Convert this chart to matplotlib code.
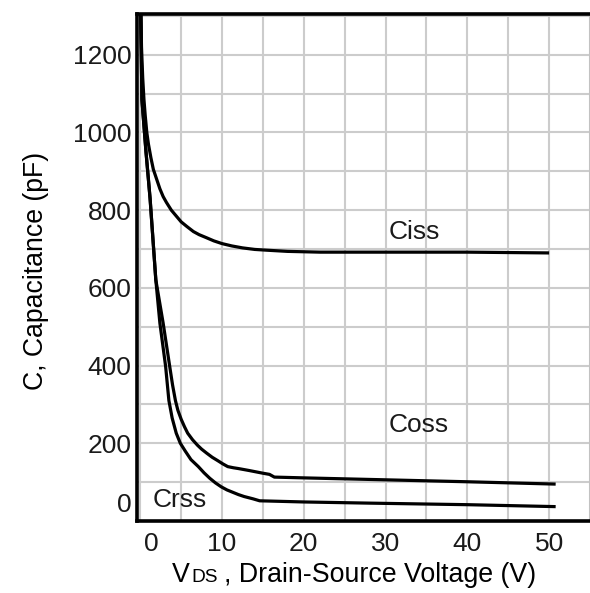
import matplotlib
matplotlib.use("Agg")
import matplotlib.pyplot as plt
from matplotlib import font_manager
from matplotlib.transforms import ScaledTranslation

# ---- data ----
ciss_v = [0, 0.15, 0.3, 0.45, 0.6, 0.8, 1.0, 1.3, 1.6, 2.0, 2.4, 2.8, 3.2, 3.8, 4.4, 5.0, 5.7,
          6.5, 7.2, 8.0, 9.0, 10.0, 11.2, 12.5, 14, 15.5, 18, 22, 30, 40, 50]
ciss_c = [1400, 1220, 1140, 1085, 1045, 1000, 970, 935, 905, 880, 855, 835, 820, 800, 785, 770, 758,
          745, 737, 730, 721, 714, 708, 703, 699, 697, 694, 692, 692, 692, 690]

coss_v = [0, 0.2, 0.7, 1.2, 1.9, 2.8, 3.6, 3.95, 4.3, 4.6, 5.0, 5.4, 5.8, 6.4, 7.0, 7.5, 8.1, 8.8,
          9.5, 10.1, 10.7, 11.4, 12.0, 13.3, 15.0, 15.8, 16.4, 20, 28, 40, 50.8]
coss_c = [1400, 1085, 950, 830, 621, 509, 398, 350, 310, 285, 262, 243, 226, 209, 195, 185, 175, 164,
          155, 147, 140, 137, 135, 130, 123, 120, 113, 111, 107, 101, 95]

crss_v = [0, 0.2, 0.7, 1.2, 1.9, 2.4, 3.1, 3.5, 3.9, 4.4, 4.9, 5.5, 6.2, 7.1, 7.8, 8.5, 9.2, 9.9,
          10.6, 11.3, 12.0, 12.7, 13.8, 14.6, 20, 28, 40, 50.8]
crss_c = [1400, 1085, 950, 830, 621, 509, 398, 310, 265, 226, 200, 180, 158, 140, 124, 110, 98, 88,
          80, 74, 68, 63, 57, 52, 49, 46, 42, 37]

x_ticks = [0, 10, 20, 30, 40, 50]
x_tick_labels = ["0", "10", "20", "30", "40", "50"]
y_ticks = [0, 200, 400, 600, 800, 1000, 1200]
y_tick_labels = ["0", "200", "400", "600", "800", "1000", "1200"]

curve_labels = ["Ciss", "Coss", "Crss"]
curve_label_pos = [(33.5, 745), (34.1, 247), (4.8, 54)]

# ---- fonts ----
avail = {f.name for f in font_manager.fontManager.ttflist}
narrow = "Liberation Sans Narrow" if "Liberation Sans Narrow" in avail else "Liberation Sans"
tick_size = 21.5 if narrow == "Liberation Sans Narrow" else 19
label_font = "Liberation Sans"

fig = plt.figure(figsize=(5.90, 5.93), dpi=100)
ax = fig.add_axes([137 / 590, (593 - 521) / 593, 1 - 137 / 590, (521 - 14) / 593])

ax.set_xlim(-0.4, 54.5)
ax.set_ylim(0, 1305)

# grid
ax.set_xticks(x_ticks)
ax.set_xticks([v + 5 for v in x_ticks], minor=True)
ax.set_yticks(y_ticks)
ax.set_yticks([v + 100 for v in y_ticks], minor=True)
ax.grid(True, which="both", color="#cccccc", linewidth=1.5)
ax.set_axisbelow(True)
ax.tick_params(which="both", length=0)
ax.tick_params(axis="x", pad=8)
ax.tick_params(axis="y", pad=4)

ax.set_xticklabels(x_tick_labels, fontfamily=narrow, fontsize=tick_size, color="#1a1a1a")
ax.set_yticklabels(y_tick_labels, fontfamily=narrow, fontsize=tick_size, color="#1a1a1a")

# the '0' labels sit offset in the reference
xl0 = ax.get_xticklabels()[0]
xl0.set_transform(xl0.get_transform() + ScaledTranslation(11.5 / 100, 0, fig.dpi_scale_trans))
yl0 = ax.get_yticklabels()[0]
yl0.set_transform(yl0.get_transform() + ScaledTranslation(0, 18 / 100, fig.dpi_scale_trans))

for s in ["top", "left", "bottom"]:
    ax.spines[s].set_linewidth(2.6)
    ax.spines[s].set_color("black")
ax.spines["right"].set_color("#9a9a9a")
ax.spines["right"].set_linewidth(1.0)

# curves
for v, c in [(ciss_v, ciss_c), (coss_v, coss_c), (crss_v, crss_c)]:
    ax.plot(v, c, color="black", linewidth=2.3, solid_capstyle="butt",
            solid_joinstyle="round", clip_on=True)

for txt, (xv, yv) in zip(curve_labels, curve_label_pos):
    ax.text(xv, yv, txt, fontfamily=narrow, fontsize=tick_size, color="#1a1a1a",
            ha="center", va="center")

# axis labels
fig.text(36 / 590, 1 - 271 / 593, "C, Capacitance (pF)", rotation=90,
         fontfamily=label_font, fontsize=19.2, ha="center", va="center")

base_y = 1 - 581.7 / 593
fig.text(171.7 / 590, base_y, "V", fontfamily=label_font, fontsize=19.3, ha="left", va="baseline")
fig.text(191.5 / 590, base_y, "DS", fontfamily=label_font, fontsize=13.8, ha="left", va="baseline")
fig.text(223.5 / 590, base_y, ", Drain-Source Voltage (V)", fontfamily=label_font, fontsize=19.3,
         ha="left", va="baseline")

fig.savefig("out.png", dpi=100)
